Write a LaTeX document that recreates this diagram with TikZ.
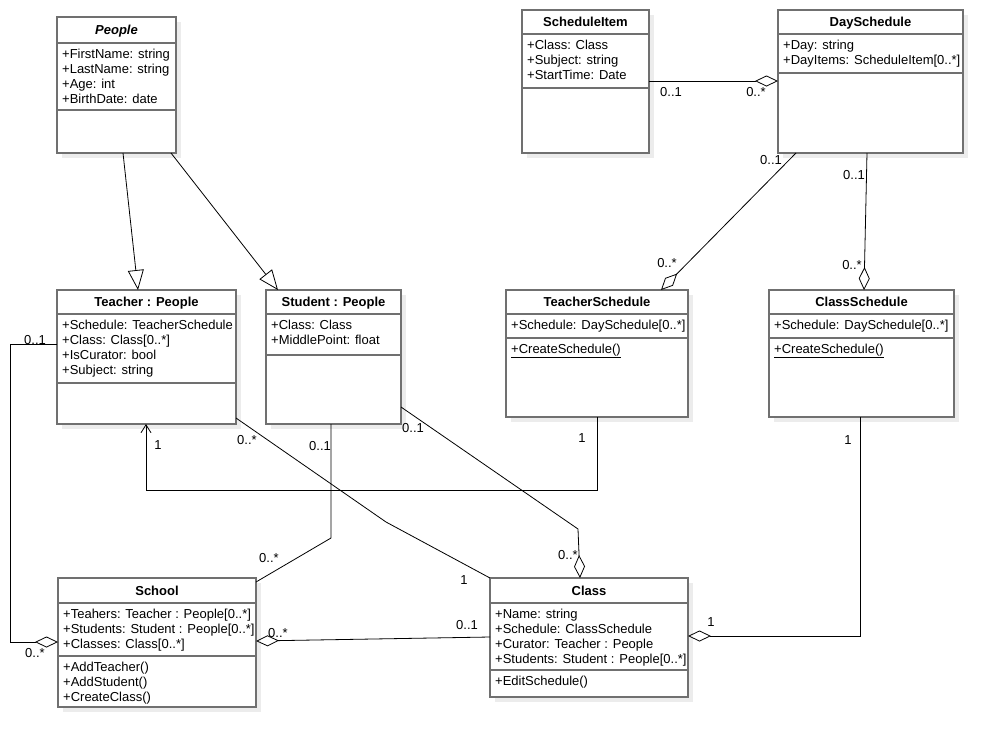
\documentclass[tikz,border=0pt]{standalone}
\usepackage{fontspec}
\setmainfont{Liberation Sans}
\usetikzlibrary{arrows.meta,shadows}
\definecolor{boxgray}{RGB}{112,112,112}
\definecolor{shadowgray}{RGB}{236,236,236}

% class box: name, left, top, right, bottom, header line, member line, title
\newcommand{\umlclass}[8]{%
  \node[classbox, minimum width={#4-#2}, minimum height={#5-#3}] (#1) at ({(#2+#4)/2},{(#3+#5)/2}) {};
  \node[classtitle] (#1-name) at ({(#2+#4)/2},{(#3+#6)/2}) {#8};
  \draw[divider] (#1.west |- 0,#6) -- (#1.east |- 0,#6);
  \draw[divider] (#1.west |- 0,#7) -- (#1.east |- 0,#7);
  \coordinate (#1-attr) at (#2+5,#6+5.5);
  \coordinate (#1-ops) at (#2+5,#7+5.5);
}

\begin{document}
\begin{tikzpicture}[x=1pt,y=-1pt,font=\fontsize{13}{15}\selectfont]
\tikzstyle{classbox}=[draw=boxgray,line width=2pt,fill=white,inner sep=0pt,outer sep=0pt,
  drop shadow={shadow xshift=5pt,shadow yshift=-5pt,fill=shadowgray,opacity=1}]
\tikzstyle{divider}=[draw=boxgray,line width=1.6pt]
\tikzstyle{classtitle}=[font=\fontsize{13}{15}\selectfont\bfseries,inner sep=0pt,text height=9.3pt,text depth=0pt]
\tikzstyle{members}=[anchor=north west,inner sep=0pt,align=left]
\tikzstyle{mult}=[inner sep=0pt]
\tikzstyle{link}=[draw=black,line width=0.8pt]
\tikzstyle{aggr}=[link,-{Diamond[open,length=23pt,width=11pt]}]
\tikzstyle{inherit}=[link,-{Triangle[open,length=20pt,width=16pt]}]
\tikzstyle{navig}=[link,-{Straight Barb[length=8pt,width=10pt]}]

\fill[white] (0,0) rectangle (1002,748);
\useasboundingbox (0,0) rectangle (1002,748);

% classes
\umlclass{people}{57}{17}{176}{153}{43}{110}{\itshape People}
\node[members] (people-fields) at (people-attr) {+FirstName: string\\+LastName: string\\+Age: int\\+BirthDate: date};

\umlclass{scheduleitem}{522}{10}{649}{153}{34}{88}{ScheduleItem}
\node[members] (scheduleitem-fields) at (scheduleitem-attr) {+Class: Class\\+Subject: string\\+StartTime: Date};

\umlclass{dayschedule}{778}{10}{963}{153}{34}{73}{DaySchedule}
\node[members] (dayschedule-fields) at (dayschedule-attr) {+Day: string\\+DayItems: ScheduleItem[0..*]};

\umlclass{teacher}{57}{290}{236}{424}{314}{383}{Teacher : People}
\node[members] (teacher-fields) at (teacher-attr) {+Schedule: TeacherSchedule\\+Class: Class[0..*]\\+IsCurator: bool\\+Subject: string};

\umlclass{student}{266}{290}{401}{424}{314}{355}{Student : People}
\node[members] (student-fields) at (student-attr) {+Class: Class\\+MiddlePoint: float};

\umlclass{teacherschedule}{506}{290}{688}{417}{314}{338}{TeacherSchedule}
\node[members] (teacherschedule-fields) at (teacherschedule-attr) {+Schedule: DaySchedule[0..*]};
\node[members] (teacherschedule-methods) at (teacherschedule-ops) {\underline{+CreateSchedule()}};

\umlclass{classschedule}{769}{290}{954}{417}{314}{338}{ClassSchedule}
\node[members] (classschedule-fields) at (classschedule-attr) {+Schedule: DaySchedule[0..*]};
\node[members] (classschedule-methods) at (classschedule-ops) {\underline{+CreateSchedule()}};

\umlclass{school}{58}{578}{256}{707}{603}{656}{School}
\node[members] (school-fields) at (school-attr) {+Teahers: Teacher : People[0..*]\\+Students: Student : People[0..*]\\+Classes: Class[0..*]};
\node[members] (school-methods) at (school-ops) {+AddTeacher()\\+AddStudent()\\+CreateClass()};

\umlclass{class}{490}{578}{688}{697}{603}{670}{Class}
\node[members] (class-fields) at (class-attr) {+Name: string\\+Schedule: ClassSchedule\\+Curator: Teacher : People\\+Students: Student : People[0..*]};
\node[members] (class-methods) at (class-ops) {+EditSchedule()};

% inheritance
\draw[inherit] (123,0 |- people.south) -- (138,0 |- teacher.north);
\draw[inherit] (171,0 |- people.south) -- (278,0 |- student.north);

% schedules
\draw[aggr] (scheduleitem.east |- 0,81) -- (dayschedule.west |- 0,81);
\node[mult] (si-ds-a) at (671,92) {0..1};
\node[mult] (si-ds-b) at (756,92) {0..*};

\draw[aggr] (796,0 |- dayschedule.south) -- (661,0 |- teacherschedule.north);
\node[mult] (ds-ts-a) at (771,160) {0..1};
\node[mult] (ds-ts-b) at (667,263) {0..*};

\draw[aggr] (867,0 |- dayschedule.south) -- (864,0 |- classschedule.north);
\node[mult] (ds-cs-a) at (854,175) {0..1};
\node[mult] (ds-cs-b) at (852,265) {0..*};

% teacher and school
\coordinate (t-bend) at (10,344);
\draw[aggr] (teacher.west |- t-bend) -- (t-bend) |- (school.west |- 0,642);
\node[mult] (t-s-a) at (35,340) {0..1};
\node[mult] (t-s-b) at (35,653) {0..*};

\coordinate (ts-bend) at (597,490);
\draw[navig] (ts-bend |- teacherschedule.south) -- (ts-bend) -| (146,0 |- teacher.south);
\node[mult] (ts-t-a) at (582,438) {1};
\node[mult] (ts-t-b) at (158,445) {1};

\coordinate (tc-bend) at (386,522);
\draw[link] (teacher.east |- 0,418) -- (tc-bend) -- (class.north west);
\node[mult] (t-c-a) at (247,440) {0..*};
\node[mult] (t-c-b) at (464,580) {1};

% student
\coordinate (ss-bend) at (331,538);
\draw[link] (ss-bend |- student.south) -- (ss-bend) -- (school.east |- 0,582);
\node[mult] (s-s-a) at (320,446) {0..1};
\node[mult] (s-s-b) at (269,558) {0..*};

\coordinate (sc-bend) at (578,529);
\draw[aggr] (student.east |- 0,407) -- (sc-bend) -- (580,0 |- class.north);
\node[mult] (s-c-a) at (413,428) {0..1};
\node[mult] (s-c-b) at (568,555) {0..*};

% class
\coordinate (cs-bend) at (860,636);
\draw[aggr] (cs-bend |- classschedule.south) -- (cs-bend) -- (class.east |- cs-bend);
\node[mult] (cs-c-a) at (848,440) {1};
\node[mult] (cs-c-b) at (711,622) {1};

\draw[aggr] (class.west |- 0,637) -- (school.east |- 0,641);
\node[mult] (c-s-a) at (467,625) {0..1};
\node[mult] (c-s-b) at (278,633) {0..*};
\end{tikzpicture}
\end{document}
